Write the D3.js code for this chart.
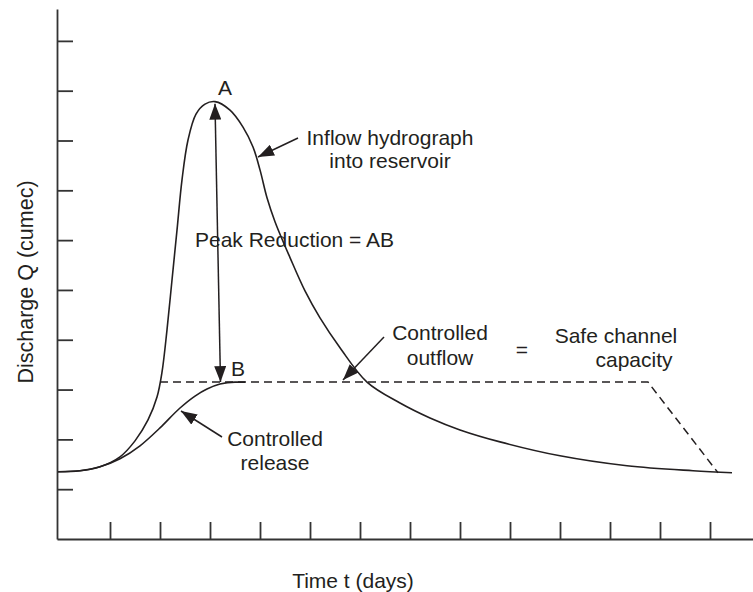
<!DOCTYPE html>
<html>
<head>
<meta charset="utf-8">
<script src="https://cdn.jsdelivr.net/npm/d3@7"></script>
<style>
  html, body { margin: 0; padding: 0; background: #fff; }
  svg text { font-family: "Liberation Sans", Arial, Helvetica, sans-serif; fill: #231f20; }
</style>
</head>
<body>
<svg id="chart" width="753" height="592"></svg>
<script>
// Time (days) and discharge (cumec) of the inflow hydrograph into the reservoir
const inflowTime = [-0.04, 0.4, 0.8, 1.2, 1.5, 1.76, 1.94, 2.04, 2.14, 2.24, 2.34, 2.44, 2.56, 2.72, 2.9, 3.1, 3.4, 3.66, 3.86, 4.0, 4.14, 4.3, 4.6, 4.9, 5.2, 5.6, 6.14, 6.8, 7.4, 8.0, 8.8, 10.0, 11.34, 12.66, 13.44];
const inflowQ    = [1.35, 1.37, 1.45, 1.65, 1.97, 2.39, 2.85, 3.35, 4.2, 5.2, 6.2, 7.21, 8.01, 8.53, 8.73, 8.78, 8.61, 8.27, 7.87, 7.41, 6.85, 6.37, 5.65, 4.98, 4.44, 3.84, 3.15, 2.73, 2.43, 2.19, 1.95, 1.67, 1.47, 1.37, 1.33];

// Controlled release from the reservoir
const releaseTime = [-0.04, 0.4, 0.8, 1.2, 1.6, 2.0, 2.4, 2.7, 2.94, 3.2, 3.5, 3.7];
const releaseQ    = [1.35, 1.37, 1.45, 1.61, 1.87, 2.23, 2.63, 2.87, 3.01, 3.11, 3.15, 3.15];

// Safe channel capacity (controlled outflow)
const safeTime = [2.0, 11.76, 13.16];
const safeQ    = [3.15, 3.15, 1.33];

// Peak reduction A -> B
const peakA = { t: 3.1, q: 8.74 };
const peakB = { t: 3.22, q: 3.15 };

const timeTicks = [1, 2, 3, 4, 5, 6, 7, 8, 9, 10, 11, 12, 13];
const dischargeTicks = [1, 2, 3, 4, 5, 6, 7, 8, 9, 10];

const svg = d3.select("#chart");
const ink = "#231f20";

const x = d3.scaleLinear().domain([-0.06, 13.86]).range([57, 753]);
const y = d3.scaleLinear().domain([0, 10.64]).range([539, 9]);

// Arrowhead marker
const defs = svg.append("defs");
defs.append("marker")
  .attr("id", "head")
  .attr("viewBox", "0 0 16 12")
  .attr("refX", 16).attr("refY", 6)
  .attr("markerWidth", 16).attr("markerHeight", 12)
  .attr("markerUnits", "userSpaceOnUse")
  .attr("orient", "auto-start-reverse")
  .append("path")
  .attr("d", "M0,0 L16,6 L0,12 Z")
  .attr("fill", ink);

// Axes: ticks point into the plot, no labels
const xAxis = d3.axisBottom(x).tickValues(timeTicks).tickSizeInner(-17).tickSizeOuter(0).tickFormat("");
const yAxis = d3.axisLeft(y).tickValues(dischargeTicks).tickSizeInner(-16).tickSizeOuter(0).tickFormat("");

const gx = svg.append("g").attr("transform", "translate(0,539)").call(xAxis);
const gy = svg.append("g").attr("transform", "translate(57,0)").call(yAxis);
[gx, gy].forEach(g => {
  g.selectAll("path, line").attr("stroke", "#333").attr("stroke-width", 1.8);
});

// Curves
const line = d3.line().x(d => x(d[0])).y(d => y(d[1])).curve(d3.curveMonotoneX);
const inflow = inflowTime.map((t, i) => [t, inflowQ[i]]);
const release = releaseTime.map((t, i) => [t, releaseQ[i]]);
const safe = safeTime.map((t, i) => [t, safeQ[i]]);

svg.append("path").datum(inflow)
  .attr("d", d3.line().x(d => x(d[0])).y(d => y(d[1])).curve(d3.curveCatmullRom.alpha(0.5)))
  .attr("fill", "none").attr("stroke", ink).attr("stroke-width", 1.6);

svg.append("path").datum(release)
  .attr("d", line)
  .attr("fill", "none").attr("stroke", ink).attr("stroke-width", 1.6);

svg.append("path").datum(safe)
  .attr("d", d3.line().x(d => x(d[0])).y(d => y(d[1])))
  .attr("fill", "none").attr("stroke", ink).attr("stroke-width", 1.5)
  .attr("stroke-dasharray", "8,5");

// Peak reduction double arrow
svg.append("line")
  .attr("x1", x(peakB.t) - 0.5).attr("y1", y(peakB.q))
  .attr("x2", x(peakA.t)).attr("y2", y(peakA.q))
  .attr("stroke", ink).attr("stroke-width", 1.5)
  .attr("marker-start", "url(#head)")
  .attr("marker-end", "url(#head)");

// Pointer arrows for annotations
const pointers = [
  [298, 138, 258, 157],
  [222, 437, 181, 411],
  [384, 337, 343, 380]
];
svg.selectAll("line.pointer").data(pointers).enter().append("line")
  .attr("class", "pointer")
  .attr("x1", d => d[0]).attr("y1", d => d[1])
  .attr("x2", d => d[2]).attr("y2", d => d[3])
  .attr("stroke", ink).attr("stroke-width", 1.5)
  .attr("marker-end", "url(#head)");

// Labels
const labels = [
  { text: "A", x: 225, y: 95, anchor: "middle" },
  { text: "B", x: 238, y: 376, anchor: "middle" },
  { text: "Inflow hydrograph", x: 390, y: 145, anchor: "middle" },
  { text: "into reservoir", x: 390, y: 168, anchor: "middle" },
  { text: "Peak Reduction = AB", x: 195, y: 247, anchor: "start" },
  { text: "Controlled", x: 440, y: 340, anchor: "middle" },
  { text: "outflow", x: 440, y: 365, anchor: "middle" },
  { text: "=", x: 522, y: 357, anchor: "middle" },
  { text: "Safe channel", x: 616, y: 343, anchor: "middle" },
  { text: "capacity", x: 634, y: 367, anchor: "middle" },
  { text: "Controlled", x: 275, y: 446, anchor: "middle" },
  { text: "release", x: 275, y: 470, anchor: "middle" }
];
svg.selectAll("text.note").data(labels).enter().append("text")
  .attr("class", "note")
  .attr("x", d => d.x).attr("y", d => d.y)
  .attr("text-anchor", d => d.anchor)
  .style("font-size", "21px")
  .text(d => d.text);

// Axis titles
svg.append("text")
  .attr("x", 353).attr("y", 588)
  .attr("text-anchor", "middle")
  .style("font-size", "21px")
  .text("Time t (days)");

svg.append("text")
  .attr("transform", "translate(33,282) rotate(-90)")
  .attr("text-anchor", "middle")
  .style("font-size", "21.5px")
  .text("Discharge Q (cumec)");
</script>
</body>
</html>
